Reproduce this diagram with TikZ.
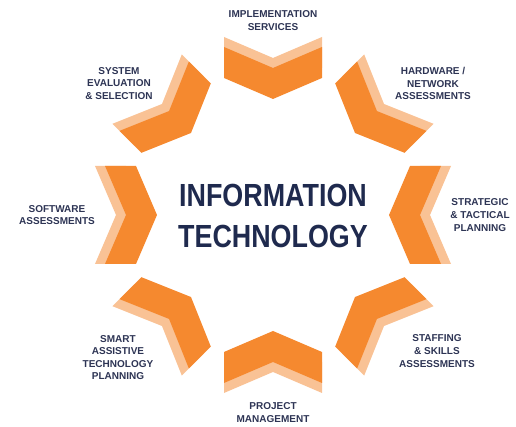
\documentclass[tikz,border=0pt]{standalone}
\usepackage{fontspec}
\setmainfont{Liberation Sans}
\usepackage{graphicx}
\definecolor{dorange}{HTML}{F5892F}
\definecolor{lorange}{HTML}{F9C295}
\definecolor{navy}{HTML}{1F2A4E}
\definecolor{labelc}{HTML}{2D3454}
\begin{document}
\begin{tikzpicture}[x=1pt,y=1pt,
  lbl/.style={font=\bfseries\fontsize{10}{12.6}\selectfont, text=labelc, align=center, inner sep=0pt},
  ttl/.style={font=\bfseries\fontsize{32}{38}\selectfont, text=navy, inner sep=0pt, anchor=base},
  lightchev/.style={fill=lorange},
  darkchev/.style={fill=dorange}]
\useasboundingbox (-273,-212) rectangle (243,215);
\foreach \a in {0,45,...,315} {
  \begin{scope}[rotate=\a-90]
    \path[lightchev] (-49,178) -- (0,157) -- (49,178) -- (49,147) -- (0,126) -- (-49,147) -- cycle;
    \path[darkchev] (-49,168) -- (0,147) -- (49,168) -- (49,137) -- (0,116) -- (-49,137) -- cycle;
  \end{scope}
}
\node[ttl] (t1) at (0,8) {\scalebox{0.84}[1]{INFORMATION}};
\node[ttl] (t2) at (0,-33) {\scalebox{0.84}[1]{TECHNOLOGY}};
\node[lbl] (impl) at (0,194.5) {IMPLEMENTATION\\SERVICES};
\node[lbl] (hard) at (160,131.5) {HARDWARE /\\NETWORK\\ASSESSMENTS};
\node[lbl] (strat) at (207,0) {STRATEGIC\\\& TACTICAL\\PLANNING};
\node[lbl] (staff) at (164,-136) {STAFFING\\\& SKILLS\\ASSESSMENTS};
\node[lbl] (proj) at (0,-197.5) {PROJECT\\MANAGEMENT};
\node[lbl] (smart) at (-155,-142.5) {SMART\\ASSISTIVE\\TECHNOLOGY\\PLANNING};
\node[lbl] (soft) at (-216,0) {SOFTWARE\\ASSESSMENTS};
\node[lbl] (sys) at (-154,131.5) {SYSTEM\\EVALUATION\\\& SELECTION};
\end{tikzpicture}
\end{document}
